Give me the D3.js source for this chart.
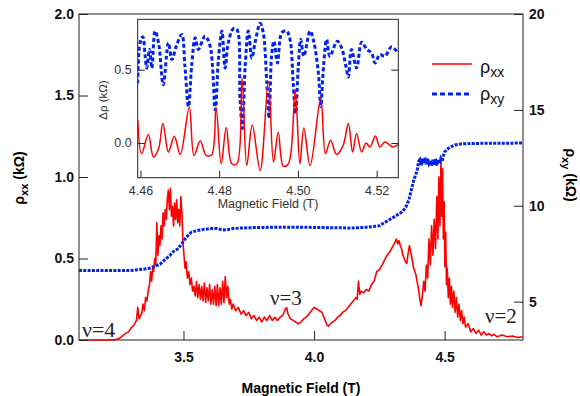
<!DOCTYPE html>
<html>
<head>
<meta charset="utf-8">
<script src="https://cdn.jsdelivr.net/npm/d3@7"></script>
<style>
  body { margin: 0; background: #fff; }
  svg { display: block; }
  .main-axis text { font-family: "Liberation Sans", Arial, sans-serif; font-size: 14px; font-weight: bold; fill: #111; }
  .main-axis path, .main-axis line { stroke: #222; }
  .inset-axis text { font-family: "Liberation Sans", Arial, sans-serif; font-size: 12.5px; fill: #333; }
  .inset-axis path, .inset-axis line { stroke: #222; }
</style>
</head>
<body>
<svg id="chart" width="580" height="396"></svg>
<script>
// main trace: longitudinal resistance (kOhm) vs field (T)
const fieldXX = [3.10, 3.15, 3.20, 3.24, 3.255, 3.27, 3.28, 3.29, 3.30, 3.31, 3.32, 3.325, 3.33, 3.34, 3.345, 3.35, 3.355, 3.36, 3.365, 3.37,
  3.374, 3.378, 3.382, 3.386, 3.39, 3.394, 3.398, 3.402, 3.406, 3.41, 3.414, 3.418, 3.422, 3.426, 3.43, 3.434, 3.438, 3.442, 3.446, 3.45,
  3.454, 3.458, 3.462, 3.466, 3.47, 3.474, 3.478, 3.482, 3.486, 3.49, 3.494, 3.498, 3.502, 3.506, 3.51, 3.515, 3.52, 3.525, 3.53, 3.535,
  3.54, 3.545, 3.55, 3.555, 3.56, 3.565, 3.57, 3.575, 3.58, 3.585, 3.59, 3.595, 3.60, 3.605, 3.61, 3.615, 3.62, 3.625, 3.63, 3.635,
  3.64, 3.645, 3.65, 3.655, 3.66, 3.665, 3.67, 3.675, 3.68, 3.685, 3.69, 3.70, 3.71, 3.72, 3.73, 3.74, 3.75, 3.76, 3.77, 3.78,
  3.79, 3.80, 3.81, 3.82, 3.83, 3.84, 3.85, 3.86, 3.87, 3.88, 3.89, 3.895, 3.90, 3.91, 3.92, 3.93, 3.94, 3.95, 3.96, 3.97,
  3.98, 3.99, 4.00, 4.01, 4.02, 4.03, 4.04, 4.05, 4.055, 4.06, 4.07, 4.08, 4.09, 4.10, 4.11, 4.12, 4.13, 4.14, 4.15, 4.16,
  4.165, 4.17, 4.175, 4.18, 4.19, 4.20, 4.21, 4.22, 4.23, 4.24, 4.25, 4.26, 4.27, 4.28, 4.29, 4.30, 4.31, 4.315, 4.32, 4.325,
  4.33, 4.335, 4.34, 4.345, 4.35, 4.355, 4.36, 4.365, 4.37, 4.375, 4.38, 4.39, 4.40, 4.405, 4.41, 4.415, 4.42, 4.425, 4.43, 4.435,
  4.44, 4.445, 4.45, 4.455, 4.46, 4.465, 4.47, 4.474, 4.478, 4.482, 4.486, 4.489, 4.492, 4.495, 4.498, 4.501, 4.504, 4.507, 4.51, 4.514,
  4.518, 4.522, 4.526, 4.53, 4.535, 4.54, 4.545, 4.55, 4.555, 4.56, 4.565, 4.57, 4.575, 4.58, 4.59, 4.60, 4.61, 4.62, 4.63, 4.64,
  4.65, 4.66, 4.67, 4.68, 4.69, 4.70, 4.72, 4.74, 4.76, 4.78, 4.80];
const rhoXX = [0, 0, 0, 0.002, 0.01, 0.03, 0.042, 0.05, 0.075, 0.09, 0.12, 0.2, 0.13, 0.16, 0.22, 0.18, 0.26, 0.24, 0.3, 0.34,
  0.42, 0.36, 0.44, 0.42, 0.5, 0.46, 0.72, 0.52, 0.64, 0.58, 0.7, 0.62, 0.78, 0.7, 0.8, 0.74, 0.86, 0.92, 0.8, 0.93,
  0.76, 0.82, 0.7, 0.84, 0.74, 0.86, 0.72, 0.8, 0.7, 0.88, 0.78, 0.6, 0.52, 0.44, 0.48, 0.38, 0.42, 0.34, 0.38, 0.3,
  0.33, 0.27, 0.36, 0.26, 0.34, 0.25, 0.33, 0.24, 0.35, 0.23, 0.32, 0.24, 0.34, 0.22, 0.31, 0.22, 0.33, 0.21, 0.34, 0.21,
  0.32, 0.22, 0.36, 0.23, 0.39, 0.26, 0.33, 0.22, 0.25, 0.19, 0.22, 0.18, 0.2, 0.16, 0.18, 0.15, 0.17, 0.13, 0.15, 0.12,
  0.14, 0.11, 0.14, 0.12, 0.15, 0.12, 0.14, 0.12, 0.14, 0.15, 0.19, 0.2, 0.16, 0.13, 0.12, 0.11, 0.10, 0.11, 0.13, 0.14,
  0.16, 0.18, 0.2, 0.19, 0.18, 0.17, 0.13, 0.09, 0.085, 0.095, 0.11, 0.12, 0.14, 0.15, 0.17, 0.18, 0.2, 0.22, 0.24, 0.26,
  0.25, 0.36, 0.28, 0.3, 0.29, 0.31, 0.3, 0.34, 0.36, 0.42, 0.43, 0.46, 0.49, 0.52, 0.54, 0.57, 0.6, 0.62, 0.59, 0.61,
  0.58, 0.56, 0.52, 0.5, 0.48, 0.47, 0.53, 0.58, 0.54, 0.5, 0.45, 0.4, 0.31, 0.25, 0.21, 0.28, 0.36, 0.3, 0.46, 0.38,
  0.62, 0.46, 0.7, 0.52, 0.74, 0.56, 0.88, 0.62, 1.0, 0.7, 1.12, 0.76, 1.05, 0.62, 0.85, 0.45, 0.66, 0.34, 0.44, 0.26,
  0.38, 0.22, 0.33, 0.2, 0.3, 0.17, 0.26, 0.14, 0.22, 0.12, 0.18, 0.1, 0.14, 0.08, 0.1, 0.05, 0.07, 0.04, 0.06, 0.03,
  0.05, 0.03, 0.04, 0.025, 0.035, 0.02, 0.03, 0.02, 0.025, 0.015, 0.02];

// main trace: Hall resistance (kOhm)
const fieldXY = [3.10, 3.20, 3.30, 3.35, 3.37, 3.39, 3.41, 3.43, 3.447, 3.46, 3.478, 3.49, 3.505, 3.52, 3.53, 3.55, 3.573, 3.60, 3.626, 3.645,
  3.664, 3.688, 3.72, 3.76, 3.80, 3.85, 3.90, 3.95, 4.00, 4.05, 4.10, 4.146, 4.20, 4.249, 4.287, 4.31, 4.338, 4.352, 4.363, 4.372,
  4.382, 4.39, 4.395, 4.40, 4.405, 4.41, 4.415, 4.42, 4.425, 4.43, 4.435, 4.44, 4.445, 4.45, 4.455, 4.46, 4.465, 4.47, 4.475, 4.48,
  4.485, 4.49, 4.495, 4.50, 4.51, 4.52, 4.54, 4.56, 4.60, 4.70, 4.80];
const rhoXY = [6.62, 6.62, 6.63, 6.7, 6.74, 6.85, 6.95, 7.2, 7.4, 7.6, 7.75, 7.95, 8.25, 8.5, 8.62, 8.7, 8.76, 8.8, 8.82, 8.76,
  8.74, 8.81, 8.84, 8.86, 8.87, 8.88, 8.88, 8.88, 8.87, 8.86, 8.85, 8.84, 8.88, 8.95, 9.26, 9.45, 9.69, 9.95, 10.3, 10.8,
  11.35, 11.65, 11.87, 12.3, 12.4, 12.1, 12.45, 12.2, 12.5, 12.15, 12.45, 12.2, 12.35, 12.1, 12.4, 12.15, 12.45, 12.1, 12.4, 12.2,
  12.45, 12.3, 12.6, 12.8, 12.95, 13.05, 13.17, 13.22, 13.25, 13.26, 13.27];

// inset: oscillating part near 4.49 T
const insetFieldXX = [4.4593, 4.4603, 4.4620, 4.4633, 4.4646, 4.4657, 4.4671, 4.4686, 4.4701, 4.4724, 4.4736, 4.4752, 4.4767, 4.4781, 4.4792, 4.4805, 4.4818, 4.4832, 4.4845, 4.4858,
  4.4870, 4.4884, 4.4904, 4.4925, 4.4938, 4.4950, 4.4963, 4.4976, 4.4993, 4.5005, 4.5015, 4.5031, 4.5058, 4.5070, 4.5083, 4.5098, 4.5115, 4.5128, 4.5139, 4.5149,
  4.5162, 4.5173, 4.5183, 4.5197, 4.5208, 4.5221, 4.5234, 4.5242, 4.5255];
const insetXX = [0.156, -0.073, 0.057, -0.096, -0.04, 0.133, -0.062, 0.046, -0.078, 0.243, -0.085, 0.014, -0.085, -0.08, 0.243, -0.142, 0.105, -0.142, -0.142, 0.443,
  -0.154, 0.122, -0.188, 0.42, -0.131, 0.071, -0.158, -0.142, 0.362, -0.142, 0.103, -0.154, 0.305, -0.073, 0.018, -0.078, -0.016, 0.133, -0.062, 0.064,
  -0.062, 0.0, -0.028, 0.048, -0.028, 0.007, -0.016, -0.028, -0.01];
const insetFieldXY = [4.4593, 4.4599, 4.4606, 4.4612, 4.4616, 4.4623, 4.4629, 4.4637, 4.4646, 4.4658, 4.4671, 4.4680, 4.4691, 4.4705, 4.4713, 4.4722, 4.4730, 4.4739, 4.4747, 4.4764,
  4.4777, 4.4790, 4.4798, 4.4807, 4.4815, 4.4823, 4.4836, 4.4845, 4.4853, 4.4859, 4.4866, 4.4874, 4.4883, 4.4891, 4.4904, 4.4912, 4.4921, 4.4927, 4.4933, 4.4939,
  4.4948, 4.4959, 4.4971, 4.4980, 4.4988, 4.4994, 4.5001, 4.5007, 4.5015, 4.5031, 4.5041, 4.5052, 4.5058, 4.5065, 4.5073, 4.5081, 4.5100, 4.5111, 4.5122, 4.5128,
  4.5136, 4.5149, 4.5162, 4.5175, 4.5187, 4.5196, 4.5208, 4.5221, 4.5238, 4.5255];
const insetXY = [0.408, 0.683, 0.725, 0.592, 0.511, 0.638, 0.511, 0.764, 0.683, 0.397, 0.683, 0.569, 0.661, 0.741, 0.523, 0.248, 0.523, 0.718, 0.638, 0.729,
  0.661, 0.225, 0.569, 0.764, 0.511, 0.683, 0.780, 0.775, 0.294, 0.099, 0.523, 0.764, 0.580, 0.683, 0.817, 0.752, 0.408, 0.167, 0.592, 0.695,
  0.546, 0.752, 0.764, 0.706, 0.408, 0.202, 0.523, 0.706, 0.592, 0.764, 0.683, 0.477, 0.248, 0.523, 0.706, 0.592, 0.695, 0.649, 0.523, 0.450,
  0.638, 0.511, 0.688, 0.638, 0.615, 0.546, 0.603, 0.592, 0.656, 0.610];

const fieldTicks = [3.5, 4.0, 4.5];
const rhoXXTicks = [0, 0.5, 1.0, 1.5, 2.0];
const rhoXYTicks = [5, 10, 15, 20];
const insetFieldTicks = [4.46, 4.48, 4.50, 4.52];
const insetRhoTicks = [0, 0.5];

const svg = d3.select("#chart");
const mLeft = 79, mRight = 523, mTop = 14, mBottom = 340;

const x = d3.scaleLinear().domain([3.1, 4.8]).range([mLeft, mRight]);
const yL = d3.scaleLinear().domain([0, 2]).range([mBottom, mTop]);
const yR = d3.scaleLinear().domain([3, 20]).range([mBottom, mTop]);

// frame
svg.append("rect").attr("x", mLeft).attr("y", mTop).attr("width", mRight - mLeft).attr("height", mBottom - mTop)
  .attr("fill", "none").attr("stroke", "#222");

// curves
const lineXX = d3.line().x(d => x(d[0])).y(d => yL(d[1]));
svg.append("path").datum(d3.zip(fieldXX, rhoXX)).attr("d", lineXX)
  .attr("fill", "none").attr("stroke", "#f00").attr("stroke-width", 1.6).attr("stroke-linejoin", "round");

const lineXY = d3.line().x(d => x(d[0])).y(d => yR(d[1]));
svg.append("path").datum(d3.zip(fieldXY, rhoXY)).attr("d", lineXY)
  .attr("fill", "none").attr("stroke", "#0022ee").attr("stroke-width", 3).attr("stroke-dasharray", "3,1.3");

// axes
svg.append("g").attr("class", "main-axis").attr("transform", `translate(0,${mBottom})`)
  .call(d3.axisBottom(x).tickValues(fieldTicks).tickFormat(d3.format(".1f")).tickSizeInner(-9).tickSizeOuter(0).tickPadding(12.5))
  .call(g => g.select(".domain").remove());
svg.append("g").attr("class", "main-axis").attr("transform", `translate(${mLeft},0)`)
  .call(d3.axisLeft(yL).tickValues(rhoXXTicks).tickFormat(d3.format(".1f")).tickSizeInner(-9).tickSizeOuter(0).tickPadding(5))
  .call(g => g.select(".domain").remove());
svg.append("g").attr("class", "main-axis").attr("transform", `translate(${mRight},0)`)
  .call(d3.axisRight(yR).tickValues(rhoXYTicks).tickFormat(d3.format("d")).tickSizeInner(-9).tickSizeOuter(0).tickPadding(6))
  .call(g => g.select(".domain").remove());

// axis titles
const bold = "'Liberation Sans', Arial, sans-serif";
svg.append("text").attr("x", 301).attr("y", 393).attr("text-anchor", "middle")
  .style("font-family", bold).style("font-size", "14px").style("font-weight", "bold").text("Magnetic Field (T)");

const tL = svg.append("text").attr("transform", "translate(24,178) rotate(-90)").attr("text-anchor", "middle")
  .style("font-family", bold).style("font-size", "14px").style("font-weight", "bold");
tL.append("tspan").text("ρ");
tL.append("tspan").attr("dy", 4).style("font-size", "11px").text("xx");
tL.append("tspan").attr("dy", -4).text(" (kΩ)");

const tR = svg.append("text").attr("transform", "translate(566,175) rotate(90)").attr("text-anchor", "middle")
  .style("font-family", bold).style("font-size", "14px").style("font-weight", "bold");
tR.append("tspan").text("ρ");
tR.append("tspan").attr("dy", 4).style("font-size", "11px").text("xy");
tR.append("tspan").attr("dy", -4).text(" (kΩ)");

// filling-factor labels
const serif = "'Liberation Serif', 'Times New Roman', serif";
[["ν=4", 82, 337, 22], ["ν=3", 270, 305, 21], ["ν=2", 485, 323, 21]].forEach(([t, px, py, fs]) => {
  svg.append("text").attr("x", px).attr("y", py).style("font-family", serif).style("font-size", fs + "px")
    .attr("fill", "#222").text(t);
});

// legend
const legend = svg.append("g");
legend.append("line").attr("x1", 432).attr("x2", 472).attr("y1", 64).attr("y2", 64)
  .attr("stroke", "#f00").attr("stroke-width", 1.3);
legend.append("line").attr("x1", 432).attr("x2", 472).attr("y1", 94).attr("y2", 94)
  .attr("stroke", "#0022ee").attr("stroke-width", 3).attr("stroke-dasharray", "5,3");
[["xx", 72.5], ["xy", 99.5]].forEach(([s, py]) => {
  const t = legend.append("text").attr("x", 480).attr("y", py)
    .style("font-family", "'Liberation Sans', Arial, sans-serif").style("font-size", "18px").attr("fill", "#111");
  t.append("tspan").text("ρ");
  t.append("tspan").attr("dy", 4.5).style("font-size", "14px").text(s);
});

// inset
const iL = 137.7, iR = 398.3, iT = 19.3, iB = 177.7;
const xi = d3.scaleLinear().domain([4.4593, 4.5255]).range([iL, iR]);
const yi = d3.scaleLinear().domain([-0.237, 0.844]).range([iB, iT]);

svg.append("rect").attr("x", iL).attr("y", iT).attr("width", iR - iL).attr("height", iB - iT)
  .attr("fill", "#fff").attr("stroke", "#222");

const clip = svg.append("clipPath").attr("id", "insetClip");
clip.append("rect").attr("x", iL).attr("y", iT).attr("width", iR - iL).attr("height", iB - iT);
const inset = svg.append("g").attr("clip-path", "url(#insetClip)");

const lineI = d3.line().x(d => xi(d[0])).y(d => yi(d[1])).curve(d3.curveCatmullRom.alpha(0.5));
inset.append("path").datum(d3.zip(insetFieldXY, insetXY)).attr("d", lineI)
  .attr("fill", "none").attr("stroke", "#0022ee").attr("stroke-width", 3).attr("stroke-dasharray", "4,2.5");
inset.append("path").datum(d3.zip(insetFieldXX, insetXX)).attr("d", lineI)
  .attr("fill", "none").attr("stroke", "#f00").attr("stroke-width", 1.5);

svg.append("g").attr("class", "inset-axis").attr("transform", `translate(0,${iB})`)
  .call(d3.axisBottom(xi).tickValues(insetFieldTicks).tickFormat(d3.format(".2f")).tickSizeInner(-7).tickSizeOuter(0).tickPadding(8))
  .call(g => g.select(".domain").remove());
svg.append("g").attr("class", "inset-axis").attr("transform", `translate(${iL},0)`)
  .call(d3.axisLeft(yi).tickValues(insetRhoTicks).tickFormat(d3.format(".1f")).tickSizeInner(-7).tickSizeOuter(0).tickPadding(6))
  .call(g => g.select(".domain").remove());
svg.append("g").attr("class", "inset-axis").attr("transform", `translate(${iR},0)`)
  .call(d3.axisRight(yi).tickValues(insetRhoTicks).tickFormat("").tickSizeInner(-7).tickSizeOuter(0))
  .call(g => g.select(".domain").remove());

svg.append("text").attr("x", 268).attr("y", 208).attr("text-anchor", "middle")
  .style("font-family", "'Liberation Sans', Arial, sans-serif").style("font-size", "12.5px").attr("fill", "#333")
  .text("Magnetic Field (T)");
svg.append("text").attr("transform", "translate(107,100) rotate(-90)").attr("text-anchor", "middle")
  .style("font-family", "'Liberation Sans', Arial, sans-serif").style("font-size", "11.5px").attr("fill", "#333")
  .text("Δρ (kΩ)");
</script>
</body>
</html>
